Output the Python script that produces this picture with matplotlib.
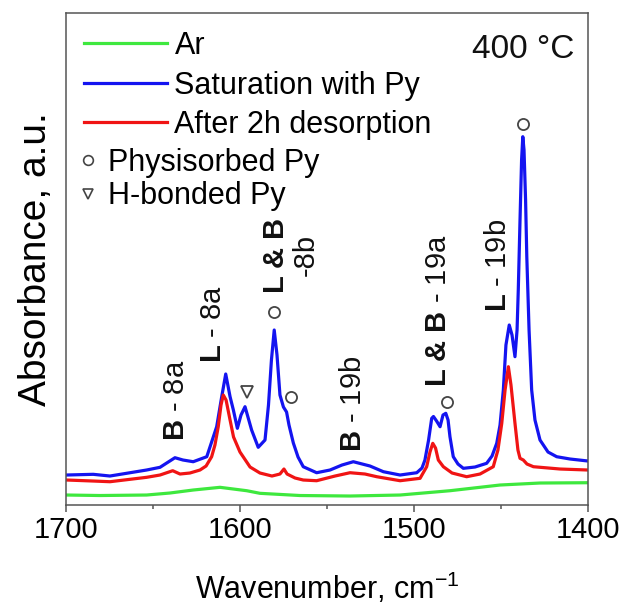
import matplotlib
matplotlib.use("Agg")
import matplotlib.pyplot as plt
from matplotlib.lines import Line2D
from matplotlib.ticker import MultipleLocator

plt.rcParams["font.family"] = ["Liberation Sans", "DejaVu Sans"]
plt.rcParams["mathtext.fontset"] = "custom"
plt.rcParams["mathtext.rm"] = "Liberation Sans"
plt.rcParams["mathtext.it"] = "Liberation Sans:italic"
plt.rcParams["mathtext.bf"] = "Liberation Sans:bold"

# ---- spectra (wavenumber, cm-1 / absorbance, a.u.) ----
ar_wn = [1700, 1680.7, 1653.9, 1640.5, 1627.1, 1611.7, 1596.3, 1588.7, 1565.7,
         1536.9, 1508.1, 1479.4, 1450.6, 1427.6, 1400]
ar_abs = [0.10, 0.095, 0.10, 0.12, 0.15, 0.177, 0.143, 0.117, 0.095,
          0.09, 0.10, 0.143, 0.20, 0.22, 0.223]

sat_wn = [1700, 1684.6, 1675.0, 1653.9, 1646.2, 1637.6, 1633.0, 1627.1, 1619.3,
          1613.6, 1610.7, 1608.4, 1605.9, 1604.0, 1601.7, 1599.6, 1597.3, 1595.4,
          1593.5, 1589.7, 1585.8, 1583.8, 1582.1, 1580.5, 1578.9, 1577.2, 1575.2,
          1573.4, 1572.0, 1569.5, 1566.8, 1563.8, 1556.1, 1548.4, 1541.5, 1535.0,
          1525.4, 1517.7, 1508.1, 1498.5, 1495.5, 1493.8, 1491.7, 1489.9, 1488.9,
          1487.1, 1485.1, 1483.4, 1481.8, 1480.5, 1479.4, 1477.5, 1474.8, 1471.7,
          1465.0, 1458.3, 1455.2, 1452.5, 1450.6, 1448.7, 1447.2, 1445.3, 1443.7,
          1442.0, 1440.8, 1440.1, 1439.1, 1438.2, 1437.5, 1436.8, 1435.9, 1435.2,
          1433.9, 1432.4, 1430.5, 1427.6, 1423.0, 1418.0, 1410.3, 1400]
sat_abs = [0.30, 0.307, 0.29, 0.35, 0.377, 0.473, 0.45, 0.433, 0.483,
           0.783, 1.083, 1.31, 1.083, 0.95, 0.767, 0.90, 0.983, 0.867,
           0.75, 0.577, 0.65, 1.00, 1.45, 1.75, 1.50, 1.10, 0.98,
           0.93, 0.80, 0.62, 0.48, 0.383, 0.323, 0.35, 0.40, 0.433,
           0.39, 0.333, 0.30, 0.323, 0.37, 0.45, 0.65, 0.867, 0.885,
           0.84, 0.783, 0.90, 0.917, 0.85, 0.683, 0.483, 0.41, 0.367,
           0.38, 0.417, 0.49, 0.617, 0.80, 1.15, 1.60, 1.80, 1.70,
           1.483, 1.75, 2.15, 2.85, 3.45, 3.683, 3.55, 3.05, 2.483,
           1.75, 1.15, 0.85, 0.65, 0.53, 0.483, 0.46, 0.44]

des_wn = [1700, 1684.8, 1675.0, 1653.9, 1646.2, 1638.9, 1634.7, 1629.0, 1623.2,
          1619.7, 1616.5, 1614.6, 1612.7, 1611.1, 1609.8, 1608.2, 1605.9, 1603.9,
          1600.2, 1594.4, 1588.7, 1581.8, 1577.2, 1574.9, 1573.1, 1568.5, 1563.8,
          1556.1, 1545.5, 1536.9, 1528.3, 1521.5, 1508.1, 1496.6, 1492.8, 1490.9,
          1489.3, 1487.7, 1486.1, 1483.2, 1478.2, 1469.8, 1462.1, 1454.5, 1451.8,
          1449.6, 1447.7, 1445.8, 1444.3, 1442.0, 1440.3, 1439.1, 1437.2, 1435.1,
          1431.4, 1416.1, 1400]
des_abs = [0.25, 0.24, 0.233, 0.277, 0.30, 0.343, 0.31, 0.32, 0.35,
           0.39, 0.483, 0.60, 0.783, 1.00, 1.10, 1.05, 0.85, 0.68,
           0.53, 0.38, 0.32, 0.29, 0.31, 0.36, 0.31, 0.27, 0.25,
           0.243, 0.29, 0.323, 0.31, 0.283, 0.243, 0.267, 0.383, 0.53,
           0.617, 0.57, 0.45, 0.383, 0.32, 0.283, 0.31, 0.383, 0.55,
           0.817, 1.15, 1.383, 1.20, 0.817, 0.55, 0.467, 0.45, 0.41,
           0.383, 0.36, 0.35]

# ---- band assignments ----
band_labels = [r"$\mathbf{B}$ - 8a", r"$\mathbf{L}$ - 8a", r"$\mathbf{B}$ - 19b",
               r"$\mathbf{L\ &\ B}$ - 19a", r"$\mathbf{L}$ - 19b"]
band_wn = [1637.0, 1615.6, 1535.0, 1486.1, 1451.6]
band_abs = [0.64, 1.417, 0.533, 1.183, 1.933]

phys_wn = [1580.6, 1571.0, 1481.3, 1437.2]
phys_abs = [1.933, 1.077, 1.033, 3.807]
hbond_wn = [1596.3]
hbond_abs = [1.133]

series_names = ["Ar", "Saturation with Py", "After 2h desorption"]
series_colors = ["#3ee83e", "#1414f0", "#f01414"]
x_ticks = [1700, 1600, 1500, 1400]

fig = plt.figure(figsize=(6.29, 6.10), dpi=100)
ax = fig.add_axes([0.1057, 0.1721, 0.8291, 0.8058])

lines = []
for wn, ab, name, col in zip([ar_wn, sat_wn, des_wn], [ar_abs, sat_abs, des_abs],
                             series_names, series_colors):
    ln, = ax.plot(wn, ab, color=col, lw=2.3, label=name, solid_joinstyle="round")
    lines.append(ln)

ax.plot(phys_wn, phys_abs, ls="none", marker="o", ms=8, mfc="white",
        mec="#444444", mew=1.3)
ax.plot(hbond_wn, hbond_abs, ls="none", marker="v", ms=8, mfc="white",
        mec="#444444", mew=1.3)

for lab, w, a in zip(band_labels, band_wn, band_abs):
    ax.text(w, a, lab, rotation=90, ha="center", va="bottom", fontsize=21,
            color="#111111")

# two-line assignment for the 1580 band
ax.text(1579.6, 2.49, r"$\mathbf{L\ &\ B}$", rotation=90, ha="center",
        va="center", fontsize=21, color="#111111")
ax.text(1562.4, 2.50, "-8b", rotation=90, ha="center", va="center",
        fontsize=21, color="#111111")

ax.set_xlim(1700, 1400)
ax.set_ylim(0, 4.915)
ax.set_xticks(x_ticks)
ax.xaxis.set_minor_locator(MultipleLocator(50))
ax.set_yticks([])
ax.tick_params(axis="x", which="major", direction="out", length=5, width=1.1,
               color="#555555", labelsize=21, pad=3)
ax.tick_params(axis="x", which="minor", direction="out", length=3, width=1.1,
               color="#555555")
for sp in ax.spines.values():
    sp.set_color("#555555")
    sp.set_linewidth(1.1)

ax.set_xlabel("Wavenumber, cm$^{-1}$", fontsize=22, labelpad=19)
ax.set_ylabel("Absorbance, a.u.", fontsize=28, labelpad=9)

leg1 = ax.legend(handles=lines, loc="upper left", bbox_to_anchor=(0.0336, 0.964),
                 frameon=False, fontsize=22, handlelength=2.7, handletextpad=0.26,
                 labelspacing=0.31, borderpad=0, borderaxespad=0)
ax.add_artist(leg1)
mk_handles = [Line2D([], [], ls="none", marker="o", ms=7, mfc="white",
                     mec="#444444", mew=1.2),
              Line2D([], [], ls="none", marker="v", ms=7, mfc="white",
                     mec="#444444", mew=1.2)]
ax.legend(handles=mk_handles, labels=["Physisorbed Py", "H-bonded Py"],
          loc="upper left", bbox_to_anchor=(0.0125, 0.726), frameon=False,
          fontsize=22, handlelength=1.0, handletextpad=0.15, labelspacing=0.1,
          borderpad=0, borderaxespad=0)

ax.text(0.973, 0.926, "400 °C", transform=ax.transAxes, ha="right",
        va="center", fontsize=24, color="#111111")

fig.savefig("out.png", dpi=100)
